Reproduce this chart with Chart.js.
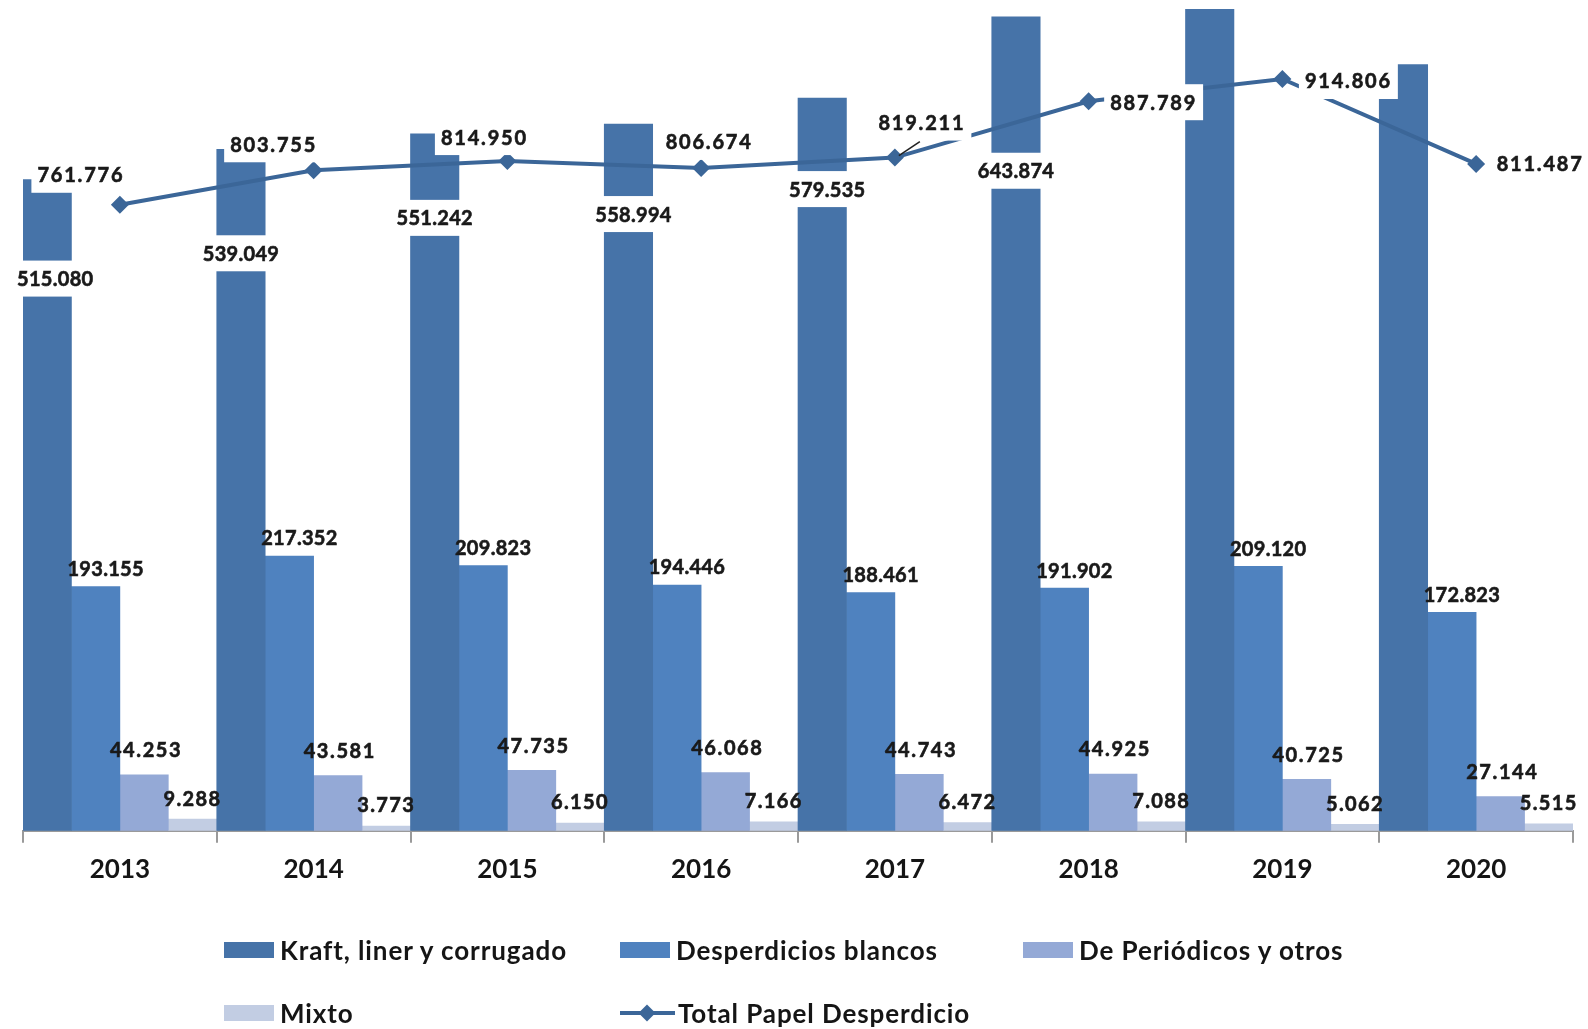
<!DOCTYPE html>
<html>
<head>
<meta charset="utf-8">
<script src="https://cdn.jsdelivr.net/npm/chart.js@4.4.1/dist/chart.umd.min.js"></script>
<style>
  html, body { margin: 0; padding: 0; background: #fff; }
  #wrap { position: relative; width: 1588px; height: 1029px; overflow: hidden; }
  #legend { position: absolute; left: 0; top: 0; width: 1588px; height: 1029px; pointer-events: none; }
  .item { position: absolute; display: flex; align-items: center; height: 40px;
          font: bold 26px Lato, sans-serif; letter-spacing: 0.9px; color: #151515; white-space: nowrap; }
  .swatch { width: 50px; height: 16px; margin-right: 6px; }
  .lineMark { position: relative; width: 55px; height: 20px; margin-right: 3px; }
  .lineMark .bar { position: absolute; left: 0; right: 0; top: 8px; height: 4px; }
  .lineMark .dia { position: absolute; left: 21px; top: 4px; width: 12px; height: 12px; transform: rotate(45deg); }
</style>
</head>
<body>
<div id="wrap">
  <canvas id="papel" width="1588" height="1029"></canvas>
  <div id="legend"></div>
</div>
<script>
const years = ['2013', '2014', '2015', '2016', '2017', '2018', '2019', '2020'];
const kraft = [515080, 539049, 551242, 558994, 579535, 643874, 659899, 606005];
const blancos = [193155, 217352, 209823, 194446, 188461, 191902, 209120, 172823];
const periodicos = [44253, 43581, 47735, 46068, 44743, 44925, 40725, 27144];
const mixto = [9288, 3773, 6150, 7166, 6472, 7088, 5062, 5515];
const total = [761776, 803755, 814950, 806674, 819211, 887789, 914806, 811487];

const seriesNames = ['Kraft, liner y corrugado', 'Desperdicios blancos', 'De Periódicos y otros', 'Mixto', 'Total Papel Desperdicio'];
const colors = ['#4673A8', '#4F82BF', '#94A9D6', '#C2CDE3', '#3B6698'];

// label placement (pixels, relative to the bar top / point)
const kraftLabelShift = [[8, 99], [0, 104], [0, 84], [5, 90], [5, 91], [0, 154], null, null];
const totalLabelShift = [[-39, -30], [-40, -26], [-23, -24], [8, -26], [27, -35], [65, 1], [66, 2], [64, 0]];

const fmt = v => String(v).replace(/\B(?=(\d{3})+(?!\d))/g, '.');

const labelStyles = [
  { shift: (i) => kraftLabelShift[i], box: true, spacing: '0.3px' },
  { shift: () => [10, -18], box: false, spacing: '0.3px' },
  { shift: () => [2, -25], box: false, spacing: '1.6px' },
  { shift: () => [0, -21], box: false, spacing: '1.4px' },
  { shift: (i) => totalLabelShift[i], box: true, spacing: '1.8px' }
];

const valueLabels = {
  id: 'valueLabels',
  afterDatasetsDraw(chart) {
    const ctx = chart.ctx;
    ctx.save();
    ctx.font = 'bold 20px Lato';
    ctx.textAlign = 'center';
    ctx.textBaseline = 'middle';
    chart.data.datasets.forEach((ds, di) => {
      const st = labelStyles[di];
      const meta = chart.getDatasetMeta(di);
      meta.data.forEach((el, i) => {
        const sh = st.shift(i);
        if (!sh) return;
        const x = el.x + sh[0];
        const y = el.y + sh[1];
        const txt = fmt(ds.data[i]);
        ctx.letterSpacing = st.spacing;
        if (st.box) {
          const w = ctx.measureText(txt).width + 12;
          ctx.fillStyle = '#fff';
          ctx.fillRect(x - w / 2, y - 18, w, 36);
        }
        ctx.fillStyle = '#1a1a1a';
        ctx.strokeStyle = '#1a1a1a';
        ctx.lineWidth = 0.6;
        ctx.fillText(txt, x, y + 1);
        ctx.strokeText(txt, x, y + 1);
        if (di === 4 && i === 4) {
          ctx.strokeStyle = '#222';
          ctx.lineWidth = 1.5;
          ctx.beginPath();
          ctx.moveTo(el.x + 4, el.y - 2);
          ctx.lineTo(el.x + 25, el.y - 16);
          ctx.stroke();
        }
      });
    });
    ctx.restore();
  }
};

function barSet(label, data, color) {
  return {
    label: label,
    data: data,
    backgroundColor: color,
    borderWidth: 0,
    categoryPercentage: 1,
    barPercentage: 1,
    yAxisID: 'y',
    order: 1
  };
}

function draw() {
  const ctx = document.getElementById('papel').getContext('2d');
  const chart = new Chart(ctx, {
    type: 'bar',
    data: {
      labels: years,
      datasets: [
        barSet(seriesNames[0], kraft, colors[0]),
        barSet(seriesNames[1], blancos, colors[1]),
        barSet(seriesNames[2], periodicos, colors[2]),
        barSet(seriesNames[3], mixto, colors[3]),
        {
          type: 'line',
          label: seriesNames[4],
          data: total,
          yAxisID: 'y1',
          borderColor: colors[4],
          backgroundColor: colors[4],
          borderWidth: 4,
          pointStyle: 'rectRot',
          pointRadius: 9,
          pointBorderWidth: 0,
          tension: 0,
          order: 0
        }
      ]
    },
    options: {
      responsive: false,
      animation: false,
      layout: { padding: { left: 23, right: 15, top: 8, bottom: 133 } },
      plugins: { legend: { display: false }, tooltip: { enabled: false } },
      scales: {
        x: {
          grid: { offset: true, drawOnChartArea: false, drawTicks: true, tickLength: 12, color: '#9a9a9a', lineWidth: 2 },
          border: { color: '#9a9a9a', width: 2 },
          ticks: { font: { family: 'Lato', weight: 'bold', size: 26 }, color: '#151515', padding: 11 }
        },
        y: { display: false, min: 0, max: 650000 },
        y1: { display: false, min: 0, max: 1000000, position: 'right' }
      }
    },
    plugins: [valueLabels]
  });

  // legend laid out in three columns like the original
  const colX = [224, 620, 1023];
  const rowY = [930, 993];
  const legend = document.getElementById('legend');
  chart.data.datasets.forEach((ds, i) => {
    const item = document.createElement('div');
    item.className = 'item';
    item.style.left = colX[i % 3] + 'px';
    item.style.top = rowY[Math.floor(i / 3)] + 'px';
    if (ds.type === 'line') {
      item.innerHTML = '<div class="lineMark"><div class="bar" style="background:' + ds.borderColor +
        '"></div><div class="dia" style="background:' + ds.borderColor + '"></div></div>';
    } else {
      item.innerHTML = '<div class="swatch" style="background:' + ds.backgroundColor + '"></div>';
    }
    const span = document.createElement('span');
    span.textContent = ds.label;
    item.appendChild(span);
    legend.appendChild(item);
  });
}

document.fonts.load('bold 25px Lato').then(draw, draw);
</script>
</body>
</html>
